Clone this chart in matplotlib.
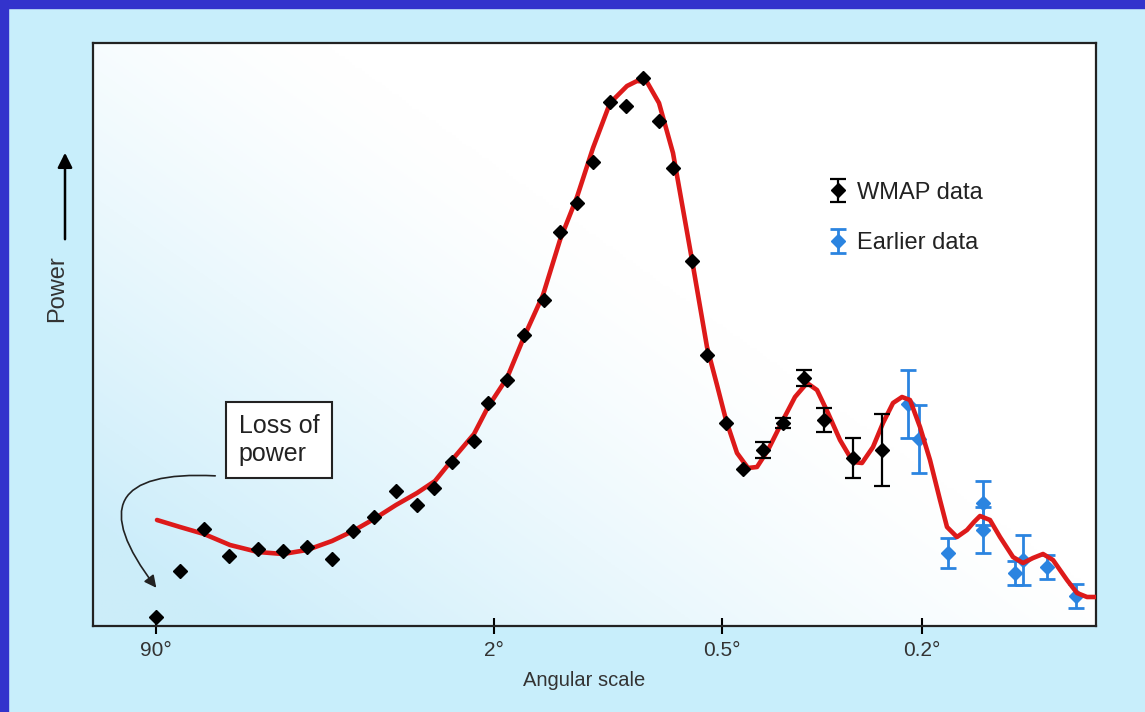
import numpy as np
import matplotlib
matplotlib.use("Agg")
import matplotlib.pyplot as plt
from matplotlib.patches import Rectangle

plt.rcParams['font.family'] = ['Liberation Sans', 'DejaVu Sans']

# positions are in arbitrary "scale units" (x grows to smaller angles)
# power is in arbitrary units, 0 at the bottom of the frame

wmap_x = [63, 87, 111, 136, 165, 190, 214, 239, 260, 281, 303, 324, 341, 359,
          381, 395, 414, 431, 451, 467, 484, 500, 517, 533, 550, 566, 580, 599,
          614, 633, 650, 670, 690, 711, 731, 760, 789]
wmap_y = [9, 55, 97, 70, 77, 75, 79, 67, 95, 109, 135, 121, 138, 164,
          185, 223, 246, 291, 326, 394, 423, 464, 524, 520, 548, 505, 458, 365,
          271, 203, 157, 176, 203, 248, 206, 168, 176]
wmap_err = [0, 0, 0, 0, 0, 0, 0, 0, 0, 0, 0, 0, 0, 0,
            0, 0, 0, 0, 0, 0, 0, 0, 0, 0, 0, 0, 0, 0,
            0, 0, 0, 8, 5, 8, 12, 20, 36]

early_x = [815, 826, 855, 890, 890, 922, 930, 954, 983]
early_y = [222, 187, 73, 123, 96, 53, 66, 59, 30]
early_err = [34, 34, 15, 22, 23, 12, 25, 12, 12]

model_x = [64, 87, 111, 137, 165, 190, 214, 239, 260, 281, 303, 324, 342, 359,
           381, 395, 414, 431, 450, 467, 484, 500, 517, 534, 544, 554, 566, 580,
           599, 614, 624, 633, 644, 655, 664, 675, 690, 702, 714, 724, 735, 747,
           760, 769, 780, 790, 800, 809, 817, 827, 837, 847, 854, 864, 874, 881,
           887, 897, 907, 920, 930, 940, 950, 960, 974, 984, 994, 1004]
model_y = [106, 99, 92, 81, 74, 72, 76, 85, 95, 107, 121, 133, 145, 166,
           192, 219, 248, 289, 331, 386, 429, 478, 523, 540, 545, 544, 523, 473,
           366, 279, 241, 206, 173, 158, 159, 176, 206, 229, 243, 236, 213, 186,
           164, 163, 179, 203, 223, 229, 226, 199, 166, 126, 99, 89, 96, 104,
           110, 106, 89, 69, 63, 68, 72, 66, 46, 33, 29, 29]

tick_pos = [63, 401, 629, 829]
tick_labels = ['90°', '2°', '0.5°', '0.2°']

W, H = 1145, 712
fig = plt.figure(figsize=(W / 100, H / 100), dpi=100)
fig.patch.set_facecolor('#c8eefb')

# dark blue frame on the top and left
fig.patches.append(Rectangle((0, 1 - 8 / H), 1, 8 / H, transform=fig.transFigure,
                             color='#3333cc', zorder=0))
fig.patches.append(Rectangle((0, 0), 8 / W, 1, transform=fig.transFigure,
                             color='#3333cc', zorder=0))

ax = fig.add_axes([93 / W, 86 / H, 1003 / W, 583 / H])
ax.set_xlim(0, 1003)
ax.set_ylim(0, 583)

# soft gradient: pale blue lower left, white upper right
u = np.linspace(0, 1, 300)
v = np.linspace(0, 1, 200)
U, V = np.meshgrid(u, v)
g = np.clip(1.15 - 1.1 * U - 0.9 * V, 0, 1) ** 1.3
c0 = np.array([1.0, 1.0, 1.0])
c1 = np.array([0.80, 0.93, 0.98])
img = c0[None, None, :] * (1 - g[..., None]) + c1[None, None, :] * g[..., None]
ax.imshow(img, extent=(0, 1003, 0, 583), origin='lower', aspect='auto', zorder=0)

blue = '#2b84e0'
ax.errorbar(early_x, early_y, yerr=early_err, fmt='D', color=blue, ms=7.5,
            elinewidth=2, capsize=6, capthick=2, zorder=2, label='Earlier data')

ax.plot(model_x, model_y, color='#dd1a1a', lw=3.3, solid_joinstyle='round',
        solid_capstyle='round', zorder=3)

wx = np.array(wmap_x)
wy = np.array(wmap_y)
we = np.array(wmap_err)
has_err = we > 0
ax.plot(wx[~has_err], wy[~has_err], 'D', color='black', ms=7.5, zorder=4)
ax.errorbar(wx[has_err], wy[has_err], yerr=we[has_err], fmt='D',
            color='black', ms=7.5, elinewidth=1.6, capsize=6, capthick=1.6,
            zorder=4, label='WMAP data')

handles, labels = ax.get_legend_handles_labels()
order = [labels.index('WMAP data'), labels.index('Earlier data')]
leg = ax.legend([handles[i] for i in order], [labels[i] for i in order],
                loc='upper left', bbox_to_anchor=(0.732, 0.762), frameon=False,
                fontsize=17, handlelength=0.95, handletextpad=0.3,
                labelspacing=1.2, borderpad=0, borderaxespad=0)
for t in leg.get_texts():
    t.set_color('#222222')

ax.set_xticks(tick_pos)
ax.set_xticklabels(tick_labels)
ax.set_yticks([])
ax.tick_params(axis='x', direction='inout', length=12, width=1.5, pad=5,
               labelsize=15, labelcolor='#333333')
for s in ax.spines.values():
    s.set_linewidth(1.6)
    s.set_color('#222222')

ax.set_xlabel('Angular scale', fontsize=14.5, color='#333333')
ax.xaxis.set_label_coords(0.49, -0.078)

# annotation box with curved arrow
ax.text(186, 186, 'Loss of\npower', ha='center', va='center', fontsize=18,
        color='#222222', multialignment='left', zorder=5,
        bbox=dict(boxstyle='square,pad=0.5', fc='white', ec='#222222', lw=1.5))
ax.annotate('', xy=(65, 36), xytext=(125, 150),
            arrowprops=dict(arrowstyle='-|>', color='#222222', lw=1.2,
                            mutation_scale=18,
                            connectionstyle='arc3,rad=1.1'), zorder=5)

# y label with upward arrow
fig.text(57 / W, 1 - 289 / H, 'Power', rotation=90, ha='center', va='center',
         fontsize=17, color='#333333')
ax.annotate('', xy=(65 / W, 1 - 150 / H), xytext=(65 / W, 1 - 242 / H),
            xycoords='figure fraction', textcoords='figure fraction',
            arrowprops=dict(arrowstyle='-|>', color='black', lw=1.8,
                            mutation_scale=22), annotation_clip=False)

fig.savefig('out.png', dpi=100, facecolor=fig.get_facecolor())
